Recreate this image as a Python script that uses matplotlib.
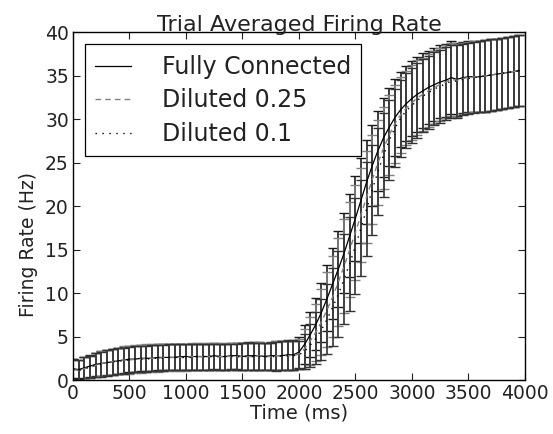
import numpy as np
import matplotlib
matplotlib.use("Agg")
import matplotlib.pyplot as plt
from matplotlib.lines import Line2D

time_ms = list(range(0, 4000, 50))

fc_mean = [1.3,1.2,1.4,1.6,1.8,1.9,2.0,2.1,2.2,2.3,
           2.4,2.4,2.5,2.5,2.5,2.6,2.6,2.6,2.6,2.7,
           2.7,2.7,2.7,2.7,2.7,2.8,2.7,2.7,2.8,2.8,
           2.7,2.8,2.8,2.8,2.7,2.8,2.8,2.8,2.9,2.9,
           3.2,4.1,5.2,6.4,7.8,9.4,11.1,12.8,14.6,16.6,
           18.6,20.7,22.8,24.7,26.4,27.9,29.1,30.2,31.1,31.8,
           32.4,32.9,33.3,33.7,34.0,34.3,34.5,34.8,34.6,34.8,
           34.9,34.9,34.9,35.0,35.1,35.2,35.3,35.4,35.5,35.6]
fc_err = [1.1,1.1,1.2,1.3,1.3,1.4,1.4,1.5,1.5,1.5,
          1.5,1.5,1.5,1.5,1.5,1.5,1.5,1.5,1.5,1.5,
          1.5,1.5,1.5,1.5,1.5,1.5,1.5,1.5,1.5,1.5,
          1.6,1.6,1.6,1.6,1.6,1.6,1.7,1.7,1.7,1.7,
          1.8,2.2,2.6,3.0,3.4,3.8,4.1,4.4,4.6,4.8,
          4.9,4.9,4.8,4.7,4.6,4.5,4.5,4.4,4.3,4.3,
          4.3,4.3,4.3,4.2,4.2,4.2,4.2,4.2,4.2,4.1,
          4.1,4.1,4.1,4.1,4.1,4.1,4.1,4.1,4.1,4.1]

d25_mean = [1.2,1.1,1.3,1.5,1.7,1.9,2.0,2.1,2.2,2.3,
            2.3,2.4,2.4,2.5,2.5,2.5,2.6,2.6,2.6,2.6,
            2.6,2.7,2.7,2.7,2.7,2.7,2.7,2.7,2.7,2.7,
            2.7,2.7,2.7,2.8,2.7,2.7,2.8,2.8,2.8,2.8,
            3.0,3.6,4.5,5.5,6.7,8.1,9.6,11.3,13.1,15.0,
            17.0,19.0,21.1,23.1,25.0,26.7,28.2,29.5,30.5,31.3,
            31.9,32.5,32.9,33.3,33.7,34.0,34.3,34.6,34.5,34.7,
            34.8,34.9,34.9,35.0,35.1,35.2,35.3,35.4,35.5,35.6]
d25_err = [1.2,1.2,1.3,1.3,1.4,1.4,1.5,1.5,1.5,1.6,
           1.6,1.6,1.6,1.6,1.6,1.6,1.6,1.6,1.6,1.6,
           1.6,1.6,1.6,1.6,1.6,1.6,1.6,1.6,1.6,1.6,
           1.6,1.6,1.6,1.6,1.6,1.6,1.7,1.7,1.7,1.7,
           1.7,2.3,2.8,3.3,3.8,4.3,4.7,5.1,5.4,5.5,
           5.5,5.4,5.3,5.1,4.9,4.7,4.6,4.5,4.4,4.3,
           4.3,4.3,4.2,4.2,4.2,4.2,4.2,4.2,4.2,4.1,
           4.1,4.1,4.1,4.1,4.1,4.1,4.1,4.1,4.1,4.1]

d10_mean = [1.2,1.1,1.3,1.5,1.7,1.8,2.0,2.1,2.2,2.2,
            2.3,2.4,2.4,2.4,2.5,2.5,2.5,2.6,2.6,2.6,
            2.6,2.6,2.7,2.7,2.7,2.7,2.7,2.7,2.7,2.7,
            2.7,2.7,2.7,2.7,2.7,2.7,2.7,2.8,2.8,2.8,
            2.9,3.3,4.0,4.8,5.8,7.0,8.4,9.9,11.6,13.4,
            15.4,17.5,19.7,21.9,24.0,25.9,27.6,29.0,30.1,31.0,
            31.6,32.2,32.7,33.1,33.5,33.8,34.1,34.4,34.4,34.6,
            34.7,34.8,34.9,35.0,35.1,35.2,35.3,35.4,35.5,35.6]
d10_err = [1.2,1.2,1.3,1.3,1.4,1.4,1.5,1.5,1.5,1.5,
           1.5,1.5,1.5,1.5,1.5,1.5,1.5,1.5,1.5,1.5,
           1.5,1.5,1.5,1.5,1.5,1.5,1.5,1.5,1.5,1.5,
           1.6,1.6,1.6,1.6,1.6,1.6,1.7,1.7,1.7,1.7,
           1.6,2.0,2.5,3.0,3.5,4.0,4.5,4.9,5.2,5.4,
           5.5,5.5,5.4,5.2,5.0,4.8,4.6,4.5,4.4,4.3,
           4.3,4.3,4.2,4.2,4.2,4.2,4.2,4.2,4.2,4.1,
           4.1,4.1,4.1,4.1,4.1,4.1,4.1,4.1,4.1,4.1]

labels = ["Fully Connected", "Diluted 0.25", "Diluted 0.1"]

TXT = "#222222"
GRAY = "#808080"
fig = plt.figure(figsize=(5.53, 4.34), dpi=100)
ax = fig.add_axes([0.132, 0.1244, 0.817, 0.8008])

t = np.array(time_ms)
ax.errorbar(t, fc_mean, yerr=fc_err, color="black", ecolor="#1a1a1a", lw=0.9,
            elinewidth=1.2, capsize=3.5, capthick=1.0)
ax.errorbar(t, d25_mean, yerr=d25_err, color=GRAY, ecolor=GRAY, lw=1.0,
            ls="--", dashes=(4, 3), elinewidth=1.2, capsize=3.5, capthick=1.0)
ax.errorbar(t, d10_mean, yerr=d10_err, color="black", ecolor="#333333", lw=1.0,
            ls=":", dashes=(1, 4), elinewidth=1.2, capsize=3.5, capthick=1.0)

ax.set_xlim(0, 4000)
ax.set_ylim(0, 40)
ax.set_xticks(range(0, 4001, 500))
ax.set_yticks(range(0, 41, 5))
ax.tick_params(direction="in", top=True, right=True, length=5, labelsize=13.5,
               colors=TXT, pad=3)
for s in ax.spines.values():
    s.set_linewidth(1.0)
ax.set_xlabel("Time (ms)", fontsize=14, color=TXT, labelpad=0)
ax.set_ylabel("Firing Rate (Hz)", fontsize=13.5, color=TXT)
ax.yaxis.set_label_coords(-0.078, 0.39)
ax.set_title("Trial Averaged Firing Rate", fontsize=16, color=TXT, pad=1)

handles = [Line2D([], [], color="black", lw=0.9),
           Line2D([], [], color=GRAY, lw=1.0, ls="--", dashes=(4, 3)),
           Line2D([], [], color="black", lw=1.0, ls=":", dashes=(1, 4))]
leg = ax.legend(handles, labels, loc="upper left", fontsize=17, fancybox=False,
                edgecolor="black", framealpha=1, borderpad=0.45, labelspacing=0.4,
                handlelength=1.5, handletextpad=1.3, borderaxespad=0.5)
leg.get_frame().set_linewidth(0.9)
for txt in leg.get_texts():
    txt.set_color(TXT)

fig.savefig("out.png", dpi=100)
